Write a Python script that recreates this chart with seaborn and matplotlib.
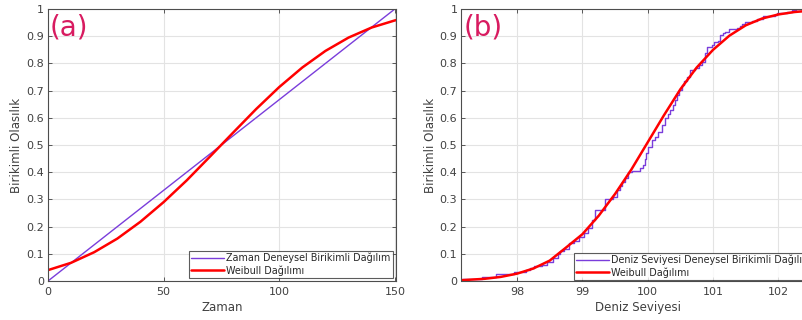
import numpy as np
import pandas as pd
import matplotlib
matplotlib.use("Agg")
import matplotlib.pyplot as plt
import seaborn as sns

# ---- data ----
# panel (a)
zaman_emp_x = [0, 150]
zaman_emp_y = [0.0, 1.0]
zaman_wb_x = [0, 10, 20, 30, 40, 50, 60, 70, 80, 90, 100, 110, 120, 130, 140, 150, 151]
zaman_wb_y = [0.040, 0.067, 0.106, 0.156, 0.218, 0.290, 0.370, 0.457, 0.545,
              0.632, 0.713, 0.785, 0.846, 0.895, 0.932, 0.958, 0.960]

# panel (b) empirical CDF (step positions and level after each step)
deniz_emp_x = [97.15, 97.46, 97.68, 97.96, 98.13, 98.20, 98.26, 98.38, 98.46, 98.55,
               98.62, 98.66, 98.72, 98.79, 98.87, 98.95, 99.02, 99.08, 99.15, 99.19,
               99.34, 99.47, 99.53, 99.58, 99.60, 99.65, 99.70, 99.76, 99.88, 99.93,
               99.96, 99.98, 100.01, 100.06, 100.11, 100.16, 100.22, 100.27, 100.31,
               100.34, 100.38, 100.42, 100.45, 100.48, 100.52, 100.56, 100.60, 100.65,
               100.73, 100.78, 100.83, 100.88, 100.91, 100.98, 101.01, 101.07, 101.11,
               101.15, 101.19, 101.25, 101.36, 101.41, 101.45, 101.49, 101.59, 101.68,
               101.77, 101.95, 101.98, 102.13, 102.21, 102.27, 102.8]
deniz_emp_y = [0.006, 0.014, 0.026, 0.034, 0.040, 0.047, 0.055, 0.060, 0.071, 0.085,
               0.100, 0.111, 0.117, 0.139, 0.148, 0.160, 0.175, 0.195, 0.224, 0.260,
               0.300, 0.310, 0.334, 0.350, 0.365, 0.378, 0.402, 0.405, 0.414, 0.426,
               0.450, 0.470, 0.494, 0.518, 0.530, 0.549, 0.574, 0.598, 0.615,
               0.629, 0.648, 0.665, 0.685, 0.702, 0.720, 0.735, 0.751, 0.776,
               0.782, 0.794, 0.806, 0.837, 0.862, 0.868, 0.880, 0.884, 0.904,
               0.912, 0.917, 0.926, 0.929, 0.9375, 0.945, 0.953, 0.957, 0.965,
               0.974, 0.978, 0.987, 0.990, 0.996, 1.000, 1.000]
deniz_wb_x = [97.15, 97.5, 97.75, 98.0, 98.25, 98.5, 98.75, 99.0, 99.25, 99.5, 99.75,
              100.0, 100.25, 100.5, 100.75, 101.0, 101.25, 101.5, 101.75, 102.0,
              102.25, 102.5, 102.75]
deniz_wb_y = [0.003, 0.008, 0.015, 0.027, 0.046, 0.075, 0.123, 0.172, 0.240, 0.320,
              0.410, 0.510, 0.610, 0.705, 0.785, 0.850, 0.902, 0.940, 0.965, 0.980,
              0.989, 0.994, 0.997]

y_ticks = [0, 0.1, 0.2, 0.3, 0.4, 0.5, 0.6, 0.7, 0.8, 0.9, 1]
y_ticklabels = ["0", "0.1", "0.2", "0.3", "0.4", "0.5", "0.6", "0.7", "0.8", "0.9", "1"]
a_xticks = [0, 50, 100, 150]
b_xticks = [98, 99, 100, 101, 102]

sns.set_theme(style="whitegrid")
plt.rcParams['font.family'] = ['DejaVu Sans']

PURPLE = "#7a3ddb"
RED = "#ff0000"
TXT = "#404040"

fig = plt.figure(figsize=(8.03, 3.2), dpi=100)
axA = fig.add_axes([48 / 803, 39 / 320, 348 / 803, 272 / 320])
axB = fig.add_axes([461.5 / 803, 39 / 320, 353.5 / 803, 272 / 320])

dfa1 = pd.DataFrame({"x": zaman_emp_x, "y": zaman_emp_y})
dfa2 = pd.DataFrame({"x": zaman_wb_x, "y": zaman_wb_y})
sns.lineplot(data=dfa1, x="x", y="y", ax=axA, color=PURPLE, linewidth=1.0,
             estimator=None, label="Zaman Deneysel Birikimli Dağılım")
sns.lineplot(data=dfa2, x="x", y="y", ax=axA, color=RED, linewidth=1.8,
             estimator=None, label="Weibull Dağılımı")

dfb1 = pd.DataFrame({"x": deniz_emp_x, "y": deniz_emp_y})
dfb2 = pd.DataFrame({"x": deniz_wb_x, "y": deniz_wb_y})
sns.lineplot(data=dfb1, x="x", y="y", ax=axB, color=PURPLE, linewidth=1.0,
             estimator=None, drawstyle="steps-post",
             label="Deniz Seviyesi Deneysel Birikimli Dağılım")
sns.lineplot(data=dfb2, x="x", y="y", ax=axB, color=RED, linewidth=1.8,
             estimator=None, label="Weibull Dağılımı")

axA.set_xlim(0, 150.5)
axB.set_xlim(97.15, 102.56)
axA.set_xticks(a_xticks)
axB.set_xticks(b_xticks)
axA.set_xlabel("Zaman", fontsize=8.5, color=TXT, labelpad=3)
axB.set_xlabel("Deniz Seviyesi", fontsize=8.5, color=TXT, labelpad=3)

for ax, tag, bap in ((axA, "(a)", 0.35), (axB, "(b)", 0.15)):
    ax.set_ylim(0, 1)
    ax.set_yticks(y_ticks)
    ax.set_yticklabels(y_ticklabels)
    ax.set_ylabel("Birikimli Olasılık", fontsize=8.5, color=TXT, labelpad=2)
    ax.tick_params(direction="in", length=3, width=0.6, colors=TXT,
                   labelsize=8, pad=4, top=True, right=True, bottom=True, left=True)
    ax.tick_params(axis="y", pad=3)
    ax.grid(True, color="#e3e3e3", linewidth=0.8)
    for s in ax.spines.values():
        s.set_color("#4d4d4d")
        s.set_linewidth(0.8)
    ax.text(0.005, 0.985, tag, transform=ax.transAxes, fontsize=20,
            color="#d81b60", ha="left", va="top")
    leg = ax.legend(loc="lower right", fontsize=6.9, frameon=True, fancybox=False,
                    borderpad=0.2, labelspacing=0.22, handlelength=3.4,
                    handletextpad=0.25, borderaxespad=bap)
    leg.get_frame().set_edgecolor("#333333")
    leg.get_frame().set_linewidth(0.8)
    for t in leg.get_texts():
        t.set_color("#262626")

fig.savefig("out.png", dpi=100)
